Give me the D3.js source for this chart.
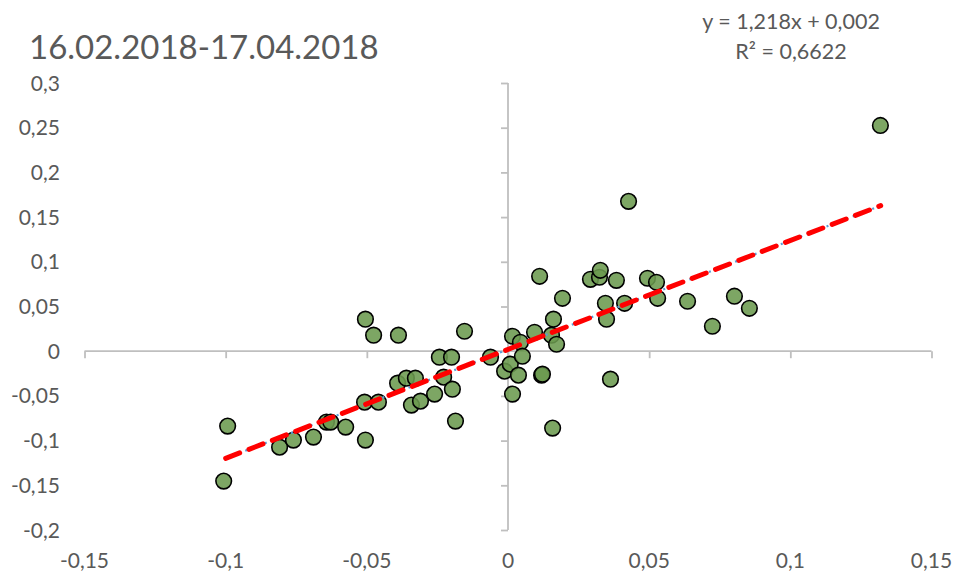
<!DOCTYPE html>
<html><head><meta charset="utf-8">
<script src="https://cdn.jsdelivr.net/npm/d3@7"></script>
<style>body{margin:0;background:#fff}svg{display:block}text{font-family:Lato,"Open Sans",sans-serif;fill:#595959}</style>
</head><body>
<svg id="c" width="955" height="574"></svg>
<script>
const title = "16.02.2018-17.04.2018";
const eqLines = ["y = 1,218x + 0,002", "R\u00b2 = 0,6622"];
const slope = 1.218, intercept = 0.002;
const trendX = [-0.1, 0.132];
const xTicks = [-0.15, -0.1, -0.05, 0, 0.05, 0.1, 0.15];
const yTicks = [-0.2, -0.15, -0.1, -0.05, 0, 0.05, 0.1, 0.15, 0.2, 0.25, 0.3];
const xs = [0.1319,0.0427,-0.0993,-0.1007,-0.0809,-0.0760,-0.0689,-0.0643,-0.0628,-0.0575,-0.0508,-0.0505,-0.0505,-0.0476,-0.0459,-0.0388,-0.0391,-0.0360,-0.0328,-0.0342,-0.0310,-0.0260,-0.0243,-0.0228,-0.0200,-0.0197,-0.0186,-0.0154,-0.0062,-0.0012,0.0008,0.0016,0.0016,0.0044,0.0051,0.0037,0.0094,0.0112,0.0119,0.0122,0.0154,0.0161,0.0172,0.0193,0.0158,0.0292,0.0324,0.0327,0.0345,0.0349,0.0363,0.0384,0.0413,0.0494,0.0526,0.0530,0.0636,0.0724,0.0802,0.0855];
const ys = [0.2525,0.1676,-0.0838,-0.1453,-0.1073,-0.0994,-0.0961,-0.0793,-0.0793,-0.0849,-0.0570,-0.0994,0.0358,0.0179,-0.0570,0.0179,-0.0358,-0.0302,-0.0302,-0.0603,-0.0559,-0.0480,-0.0067,-0.0290,-0.0067,-0.0425,-0.0782,0.0223,-0.0067,-0.0223,-0.0145,0.0167,-0.0480,0.0100,-0.0056,-0.0268,0.0212,0.0838,-0.0268,-0.0257,0.0179,0.0358,0.0078,0.0592,-0.0860,0.0804,0.0827,0.0905,0.0536,0.0358,-0.0313,0.0793,0.0536,0.0816,0.0771,0.0592,0.0559,0.0279,0.0615,0.0480];

const svg = d3.select("#c");
const x = d3.scaleLinear().domain([-0.15, 0.15]).range([84.5, 931.5]);
const y = d3.scaleLinear().domain([-0.2, 0.3]).range([530, 83]);
const fmt = d => String(+d.toFixed(2)).replace(".", ",");

svg.append("text").attr("x", 29).attr("y", 59).attr("font-size", 33).text(title);
svg.selectAll("text.eq").data(eqLines).join("text").attr("class","eq")
  .attr("x", 791).attr("y", (d,i)=>29+i*30).attr("text-anchor","middle").attr("font-size", 21.5).text(d=>d);

// y labels
svg.selectAll("text.yl").data(yTicks).join("text").attr("class","yl")
  .attr("x", 60).attr("y", d=>y(d)+7.5).attr("text-anchor","end").attr("font-size",21).text(fmt);
// x labels
svg.selectAll("text.xl").data(xTicks).join("text").attr("class","xl")
  .attr("x", d=>x(d)).attr("y", 568).attr("text-anchor","middle").attr("font-size",21).text(fmt);

// axes
const gx = svg.append("g").attr("transform", `translate(0,${y(0)})`)
  .call(d3.axisBottom(x).tickValues(xTicks).tickSize(7).tickFormat(""));
const gy = svg.append("g").attr("transform", `translate(${x(0)},0)`)
  .call(d3.axisLeft(y).tickValues(yTicks).tickSize(7).tickFormat(""));
[gx, gy].forEach(g => { g.selectAll("path,line").attr("stroke","#bfbfbf").attr("stroke-width",1.8); g.select(".domain").attr("d", null); });
gx.append("line").attr("x1", x(-0.15)).attr("x2", x(0.15)).attr("stroke","#bfbfbf").attr("stroke-width",1.8);
gy.append("line").attr("y1", y(0.3)).attr("y2", y(-0.2)).attr("stroke","#bfbfbf").attr("stroke-width",1.8);

// points
svg.append("g").selectAll("circle").data(xs.map((v,i)=>[v, ys[i]])).join("circle")
  .attr("cx", d=>x(d[0])).attr("cy", d=>y(d[1])).attr("r", 7.8)
  .attr("fill", "#6b9a4f").attr("fill-opacity", 0.88)
  .attr("stroke", "#000").attr("stroke-width", 1.6);

// trend lines
const tl = d3.line().x(d=>x(d)).y(d=>y(slope*d+intercept));
svg.append("path").attr("d", tl(trendX)).attr("stroke","#5b9bd5").attr("stroke-width",2.2)
  .attr("stroke-dasharray","2 5").attr("fill","none");
svg.append("path").attr("d", tl(trendX)).attr("stroke","#ff0000").attr("stroke-width",5)
  .attr("stroke-dasharray","15 10").attr("stroke-linecap","round").attr("fill","none");
</script></body></html>
